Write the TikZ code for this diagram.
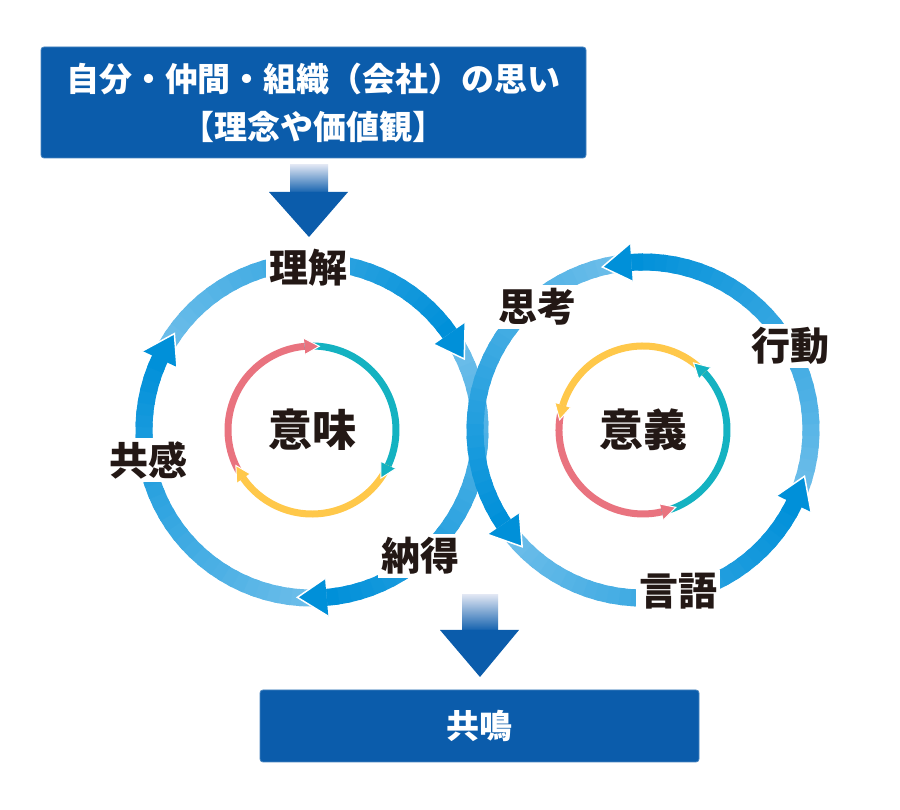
\documentclass[tikz,border=0pt]{standalone}
\usepackage{fontspec}
\setmainfont{Noto Sans CJK JP}
\usepackage{tikz}
\usetikzlibrary{calc}
\definecolor{boxblue}{HTML}{0B5CAB}
\definecolor{arrowpale}{HTML}{DDE4F2}
\definecolor{ringlight}{HTML}{70BFEA}
\definecolor{ringdark}{HTML}{0090D9}
\definecolor{inred}{HTML}{E9737F}
\definecolor{inteal}{HTML}{14B2C1}
\definecolor{inyellow}{HTML}{FFC84A}
\definecolor{labelblack}{HTML}{231815}

\begin{document}
\begin{tikzpicture}[x=1pt,y=1pt]
\tikzstyle{every node}+=[inner sep=0pt]
\tikzstyle{bluebox}=[fill=boxblue, draw=boxblue!75!white, line width=0.8, rounded corners=3, text=white, align=center, font=\bfseries\fontsize{33}{48}\selectfont]
\tikzstyle{ringlabel}=[fill=white, inner sep=3, text=labelblack, font=\bfseries\fontsize{39}{39}\selectfont]
\tikzstyle{centrelabel}=[text=labelblack, font=\bfseries\fontsize{44}{44}\selectfont]
\tikzstyle{headedge}=[white, line width=1.5, line join=miter]
\fill [white] (0,0) rectangle (900,810);
\useasboundingbox (0,0) rectangle (900,810);
\coordinate (imi) at (312,380);
\coordinate (igi) at (643,380);
\node [bluebox, minimum width=545, minimum height=111] (topbox) at (313.5,707.5) {自分・仲間・組織（会社）の思い\\【理念や価値観】};
\node [bluebox, minimum width=439, minimum height=72] (bottombox) at (479.5,84) {共鳴};
\shade [top color=arrowpale, bottom color=boxblue] (290,645) rectangle (328,616);
\fill [boxblue] (269,618) -- (348,618) -- (309,573) -- cycle;
\shade [top color=arrowpale, bottom color=boxblue] (462,215) rectangle (498,178);
\fill [boxblue] (440,180) -- (519,180) -- (480,133) -- cycle;
\foreach \c/\s/\e in {imi/155/35, imi/35/-85, imi/-85/-205, igi/-26/94, igi/94/214, igi/214/334}{
  \foreach \i in {0,...,29}{
    \pgfmathsetmacro{\ta}{\s+(\e-\s)*\i/30}
    \pgfmathsetmacro{\tb}{\s+(\e-\s)*(\i+1.4)/30}
    \pgfmathtruncatemacro{\p}{100*\i/29}
    \draw [ringdark!\p!ringlight, line width=17] ($(\c)+(\ta:168)$) arc [start angle=\ta, end angle=\tb, radius=168];
  }
}
\foreach \c/\t/\e in {imi/25/35, imi/-95/-85, imi/145/155, igi/104/94, igi/224/214, igi/344/334}{
  \fill [ringdark] ($(\c)+(\e:187)$) -- ($(\c)+(\t:168)$) -- ($(\c)+(\e:149)$) -- cycle;
  \draw [headedge] ($(\c)+(\e:187)$) -- ($(\c)+(\t:168)$) -- ($(\c)+(\e:149)$);
}
\foreach \c/\col/\s/\e in {imi/inred/215/95, imi/inteal/95/-25, imi/inyellow/-25/-145, igi/inred/163/283, igi/inteal/283/403, igi/inyellow/43/163}
  \draw [\col, line width=7] ($(\c)+(\s:84)$) arc [start angle=\s, end angle=\e, radius=84];
\foreach \c/\col/\t/\e in {imi/inred/85/95, imi/inteal/-35/-25, imi/inyellow/-155/-145, igi/inred/293/283, igi/inteal/413/403, igi/inyellow/173/163}{
  \fill [\col] ($(\c)+(\e:92)$) -- ($(\c)+(\t:84)$) -- ($(\c)+(\e:76)$) -- cycle;
  \draw [headedge, line width=1] ($(\c)+(\e:92)$) -- ($(\c)+(\t:84)$) -- ($(\c)+(\e:76)$);
}
\node [ringlabel] (rikai) at (308,542) {理解};
\node [ringlabel] (nattoku) at (420,254) {納得};
\node [ringlabel] (kyokan) at (148,350) {共感};
\node [ringlabel] (shiko) at (537,503) {思考};
\node [ringlabel] (kodo) at (790,464) {行動};
\node [ringlabel] (gengo) at (678,219) {言語};
\node [centrelabel] (imilabel) at (imi) {意味};
\node [centrelabel] (igilabel) at (igi) {意義};
\end{tikzpicture}
\end{document}
